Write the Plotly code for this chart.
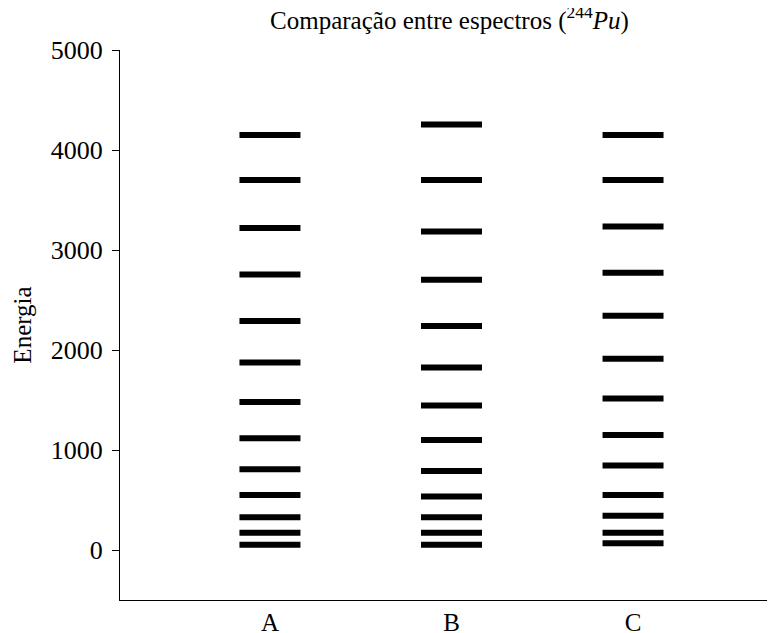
import plotly.graph_objects as go

categories = ["A", "B", "C"]
levels_A = [53, 173, 327, 551, 808, 1118, 1481, 1875, 2289, 2756, 3220, 3701, 4151]
levels_B = [53, 173, 327, 534, 791, 1101, 1444, 1825, 2239, 2703, 3186, 3701, 4254]
levels_C = [67, 173, 343, 551, 844, 1151, 1514, 1912, 2342, 2773, 3236, 3701, 4151]
y_ticks = [0, 1000, 2000, 3000, 4000, 5000]

series = [levels_A, levels_B, levels_C]
half = 0.168

fig = go.Figure()
for i, (cat, levels) in enumerate(zip(categories, series)):
    xs, ys = [], []
    for v in levels:
        xs += [i - half, i + half, None]
        ys += [v, v, None]
    fig.add_trace(go.Scatter(x=xs, y=ys, mode="lines", name=cat,
                             line=dict(color="black", width=6),
                             showlegend=False))

font = "Liberation Serif, Times New Roman, serif"
fig.update_layout(
    width=767, height=625,
    margin=dict(l=112, r=0, t=42, b=33, autoexpand=False),
    paper_bgcolor="white", plot_bgcolor="white",
    font=dict(family=font, color="black", size=25),
    title=dict(text="Comparação entre espectros (<sup>244</sup><i>Pu</i>)",
               xref="paper", x=0.503, xanchor="center",
               yref="container", y=0.981, yanchor="middle",
               font=dict(family=font, size=25, color="black")),
)
fig.update_xaxes(
    range=[-0.826, 2.782], tickvals=[0, 1, 2], ticktext=categories,
    showgrid=False, zeroline=False, showline=True, linecolor="black",
    linewidth=1, ticks="", tickfont=dict(size=25), automargin=False,
)
fig.update_yaxes(
    range=[-500, 5000], tickvals=y_ticks, showgrid=False, zeroline=False,
    showline=True, linecolor="black", linewidth=1, ticks="outside",
    ticklen=7, tickcolor="black", tickfont=dict(size=26),
    ticklabelstandoff=4, automargin=False,
    title=dict(text="Energia", font=dict(size=25), standoff=12),
)
fig.write_html("out.html")
